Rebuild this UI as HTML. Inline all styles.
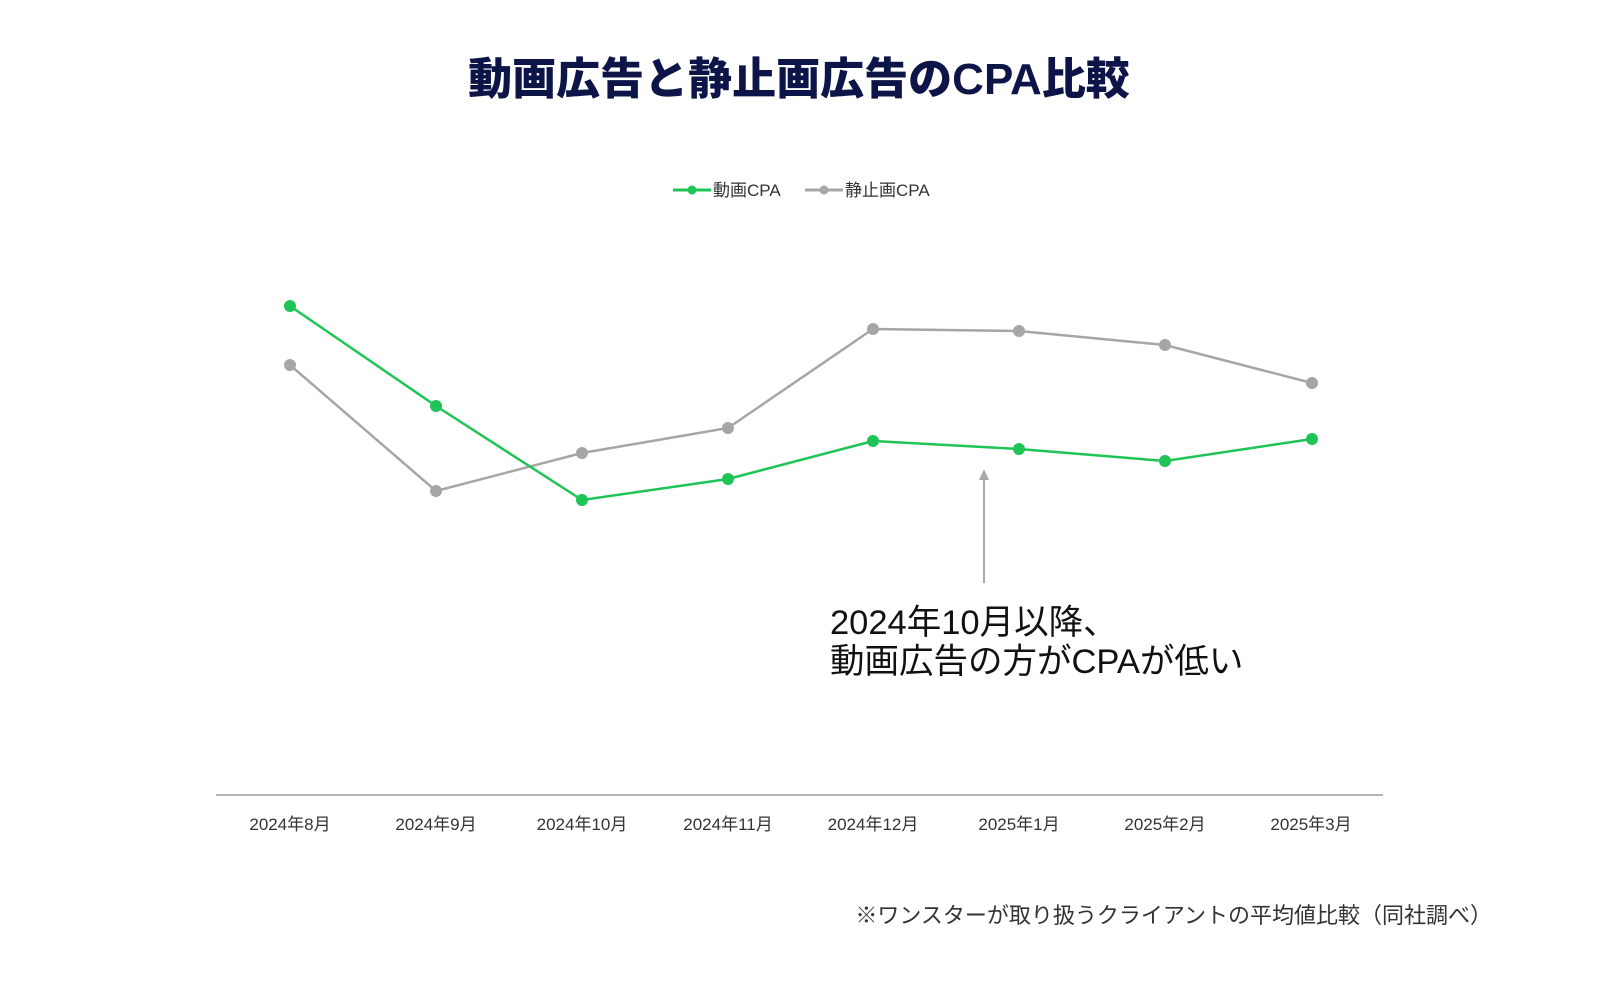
<!DOCTYPE html>
<html><head><meta charset="utf-8"><style>
body{margin:0;background:#fff;}
svg text{font-family:"Liberation Sans","Noto Sans CJK JP",sans-serif;}
</style></head><body>
<svg width="1600" height="1000" viewBox="0 0 1600 1000" xmlns="http://www.w3.org/2000/svg">
<text x="799" y="94" text-anchor="middle" font-size="44" font-weight="900" fill="#0d1448">動画広告と静止画広告のCPA比較</text>
<g font-size="17" fill="#333">
<line x1="673" y1="190" x2="711" y2="190" stroke="#1ec556" stroke-width="3"/><circle cx="692" cy="190" r="4.5" fill="#1ec556"/>
<text x="713" y="196">動画CPA</text>
<line x1="805" y1="190" x2="843" y2="190" stroke="#a6a6a6" stroke-width="3"/><circle cx="824" cy="190" r="4.5" fill="#a6a6a6"/>
<text x="845" y="196">静止画CPA</text>
</g>
<line x1="216" y1="795" x2="1383" y2="795" stroke="#999" stroke-width="1.5"/>
<g font-size="17" fill="#333" text-anchor="middle">
<text x="290" y="830">2024年8月</text><text x="436" y="830">2024年9月</text><text x="582" y="830">2024年10月</text><text x="728" y="830">2024年11月</text><text x="873" y="830">2024年12月</text><text x="1019" y="830">2025年1月</text><text x="1165" y="830">2025年2月</text><text x="1311" y="830">2025年3月</text>
</g>
<polyline fill="none" stroke="#a6a6a6" stroke-width="2.5" points="290,365 436,491 582,453 728,428 873,329 1019,331 1165,345 1312,383"/>
<g fill="#a6a6a6"><circle cx="290" cy="365" r="6"/><circle cx="436" cy="491" r="6"/><circle cx="582" cy="453" r="6"/><circle cx="728" cy="428" r="6"/><circle cx="873" cy="329" r="6"/><circle cx="1019" cy="331" r="6"/><circle cx="1165" cy="345" r="6"/><circle cx="1312" cy="383" r="6"/></g>
<polyline fill="none" stroke="#1ec556" stroke-width="2.5" points="290,306 436,406 582,500 728,479 873,441 1019,449 1165,461 1312,439"/>
<g fill="#1ec556"><circle cx="290" cy="306" r="6"/><circle cx="436" cy="406" r="6"/><circle cx="582" cy="500" r="6"/><circle cx="728" cy="479" r="6"/><circle cx="873" cy="441" r="6"/><circle cx="1019" cy="449" r="6"/><circle cx="1165" cy="461" r="6"/><circle cx="1312" cy="439" r="6"/></g>
<line x1="984" y1="478" x2="984" y2="583" stroke="#aaa" stroke-width="2"/>
<polygon points="984,469 979,480 989,480" fill="#aaa"/>
<g font-size="34.5" fill="#111">
<text x="830" y="634">2024年10月以降、</text>
<text x="830" y="673">動画広告の方がCPAが低い</text>
</g>
<text x="1492" y="923" text-anchor="end" font-size="22" fill="#333">※ワンスターが取り扱うクライアントの平均値比較（同社調べ）</text>
</svg>
</body></html>
